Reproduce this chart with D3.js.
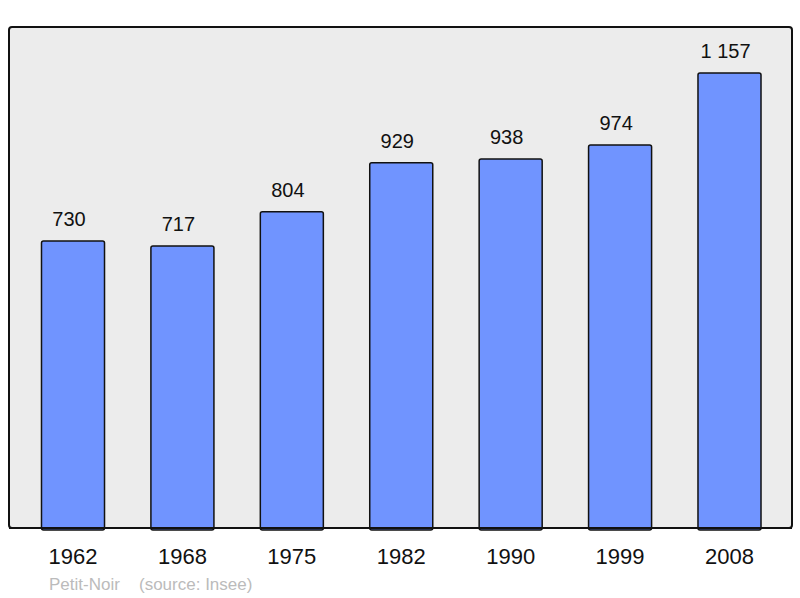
<!DOCTYPE html>
<html>
<head>
<meta charset="utf-8">
<script src="https://cdn.jsdelivr.net/npm/d3@7"></script>
<style>
  body { margin: 0; background: #fff; }
  text { font-family: "Liberation Sans", Arial, sans-serif; }
</style>
</head>
<body>
<div id="chart"></div>
<script>
let years = ["1962", "1968", "1975", "1982", "1990", "1999", "2008"];
let population = [730, 717, 804, 929, 938, 974, 1157];
let valueLabels = ["730", "717", "804", "929", "938", "974", "1 157"];
let credits = ["Petit-Noir", "(source: Insee)"];

let width = 800, height = 598;
let frame = {left: 9, top: 27, right: 792, bottom: 528};

let svg = d3.select("#chart")
    .append("svg")
    .attr("width", width)
    .attr("height", height);

// grey plot frame
svg.append("rect")
    .attr("x", frame.left)
    .attr("y", frame.top)
    .attr("width", frame.right - frame.left)
    .attr("height", frame.bottom - frame.top)
    .attr("rx", 3)
    .attr("fill", "#ececec")
    .attr("stroke", "#111")
    .attr("stroke-width", 2);

let x = d3.scaleBand()
    .domain(years)
    .range([18.3, 784.2])
    .paddingInner(0.424)
    .paddingOuter(0.212);

let y = d3.scaleLinear()
    .domain([0, 1157])
    .range([frame.bottom, 73]);

let data = years.map((d, i) => ({year: d, value: population[i], label: valueLabels[i]}));

svg.selectAll(".bar")
    .data(data)
    .enter()
    .append("rect")
    .attr("class", "bar")
    .attr("x", d => x(d.year))
    .attr("y", d => y(d.value))
    .attr("width", x.bandwidth())
    .attr("height", d => y(0) - y(d.value) + 2)
    .attr("rx", 2)
    .attr("fill", "#7094ff")
    .attr("stroke", "#111")
    .attr("stroke-width", 1.5);

// redraw the bottom edge over the bars
svg.append("line")
    .attr("x1", frame.left)
    .attr("x2", frame.right)
    .attr("y1", frame.bottom)
    .attr("y2", frame.bottom)
    .attr("stroke", "#111")
    .attr("stroke-width", 2);

svg.selectAll(".val")
    .data(data)
    .enter()
    .append("text")
    .attr("class", "val")
    .attr("x", d => x(d.year) + x.bandwidth() / 2 - 4)
    .attr("y", d => y(d.value) - 15)
    .attr("text-anchor", "middle")
    .style("font-size", "20px")
    .attr("fill", "#111")
    .text(d => d.label);

// x axis labels
let xAxis = svg.append("g")
    .attr("transform", `translate(0, ${frame.bottom})`)
    .call(d3.axisBottom(x).tickSize(0).tickPadding(0));
xAxis.select(".domain").remove();
xAxis.selectAll("text")
    .attr("dy", null)
    .attr("y", 36)
    .style("font-size", "22px")
    .style("font-family", "'Liberation Sans', Arial, sans-serif")
    .attr("fill", "#111");

svg.selectAll(".credit")
    .data(credits)
    .enter()
    .append("text")
    .attr("class", "credit")
    .attr("x", (d, i) => i === 0 ? 49 : 139)
    .attr("y", 590)
    .style("font-size", "17px")
    .attr("fill", "#bbbbbb")
    .text(d => d);
</script>
</body>
</html>
